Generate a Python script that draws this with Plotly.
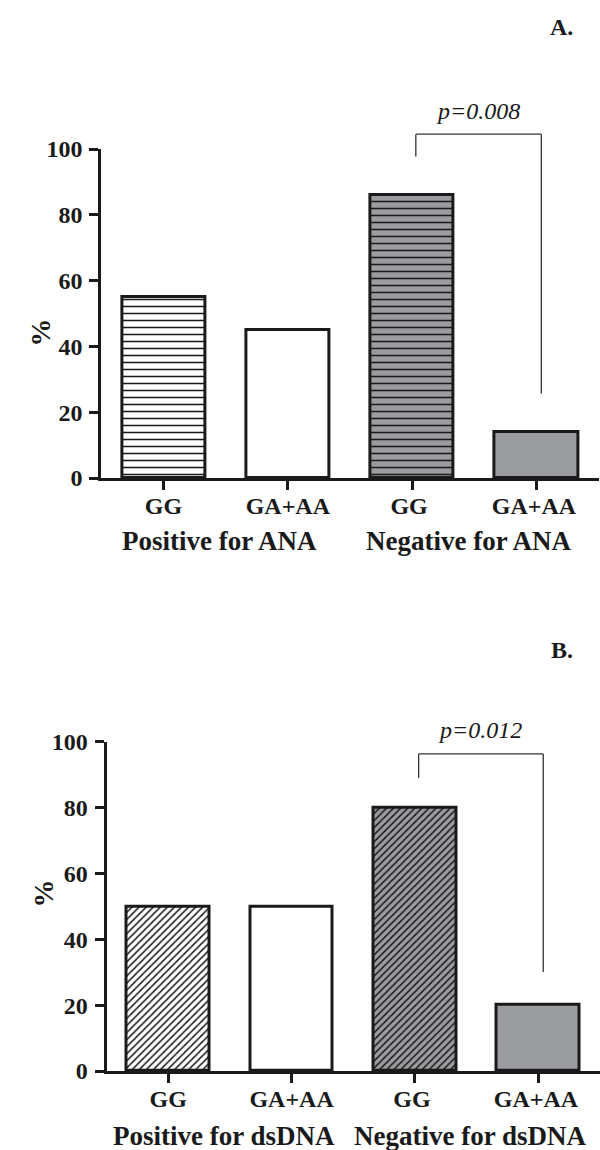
import plotly.graph_objects as go

# ---- data ----
genotypes = ["GG", "GA+AA", "GG ", "GA+AA "]
ana_values = [55, 45, 86, 14]
dsdna_values = [50, 50, 80, 20]
ana_groups = ["Positive for ANA", "Negative for ANA"]
dsdna_groups = ["Positive for dsDNA", "Negative for dsDNA"]
ana_p = "p=0.008"
dsdna_p = "p=0.012"
yticks = [0, 20, 40, 60, 80, 100]
# bracket: (top, left tip, right tip) in % units
ana_bracket = [104.5, 97.7, 25.7]
dsdna_bracket = [96.3, 89.0, 30.1]
ana_p_level = 111.5
dsdna_p_level = 103.5

W, H = 600, 1150
GRAY = "#9b9ca0"
INK = "#1a1a1a"
FONT = "Liberation Serif"

def py(px):
    return 1 - px / H

fig = go.Figure()

def panel_bars(values, xa, ya, shape):
    fills = ["white", "white", GRAY, GRAY]
    shapes = [shape, "", shape, ""]
    for i, (cat, v) in enumerate(zip(genotypes, values)):
        fig.add_trace(go.Bar(
            x=[cat], y=[v], xaxis=xa, yaxis=ya, width=0.67,
            marker=dict(color=fills[i],
                        line=dict(color=INK, width=3),
                        pattern=dict(shape=shapes[i], fgcolor=INK,
                                     bgcolor=fills[i],
                                     size=7 if shape == "-" else 5,
                                     solidity=0.22 if shape == "-" else 0.3,
                                     fillmode="replace")),
            showlegend=False, hoverinfo="skip"))

panel_bars(ana_values, "x", "y", "-")
panel_bars(dsdna_values, "x2", "y2", "/")

axis_common = dict(showline=True, linecolor=INK, linewidth=3,
                   ticks="outside", ticklen=9, tickwidth=3, tickcolor=INK,
                   showgrid=False, zeroline=False, fixedrange=True,
                   automargin=False)
tickfont = dict(family=FONT, size=24, color=INK, weight="bold")
xax = dict(range=[-0.5, 3.5], categoryorder="array", categoryarray=genotypes,
           tickfont=tickfont, ticklabelstandoff=-5, **axis_common)
yax = dict(range=[0, 100], tickvals=yticks, tickfont=tickfont,
           ticklabelstandoff=2, **axis_common)

fig.update_layout(
    width=W, height=H, margin=dict(l=0, r=0, t=0, b=0, autoexpand=False),
    paper_bgcolor="white", plot_bgcolor="white", bargap=0,
    xaxis=dict(domain=[0.169, 0.9975], anchor="y", **xax),
    yaxis=dict(domain=[py(478), py(149)], anchor="x", **yax),
    xaxis2=dict(domain=[0.1775, 1.0], anchor="y2", **xax),
    yaxis2=dict(domain=[py(1071), py(741.7)], anchor="x2", **yax),
)

def bracket(xa, ya_dom, vals):
    top, lt, rt = vals
    xl, xr = 2.03, 3.04
    line = dict(color="#333333", width=1.3)
    fig.add_shape(type="line", xref=xa, yref=ya_dom, x0=xl, x1=xr,
                  y0=top / 100, y1=top / 100, line=line)
    fig.add_shape(type="line", xref=xa, yref=ya_dom, x0=xl, x1=xl,
                  y0=top / 100, y1=lt / 100, line=line)
    fig.add_shape(type="line", xref=xa, yref=ya_dom, x0=xr, x1=xr,
                  y0=top / 100, y1=rt / 100, line=line)

bracket("x", "y domain", ana_bracket)
bracket("x2", "y2 domain", dsdna_bracket)

pfont = dict(family=FONT, size=24, color=INK, style="italic")
fig.add_annotation(text=ana_p, xref="x", yref="y domain", x=2.53,
                   y=ana_p_level / 100, showarrow=False, font=pfont,
                   yanchor="middle")
fig.add_annotation(text=dsdna_p, xref="x2", yref="y2 domain", x=2.53,
                   y=dsdna_p_level / 100, showarrow=False, font=pfont,
                   yanchor="middle")

gfont = dict(family=FONT, size=27, color=INK, weight="bold")
for xa, groups, ypx in [("x", ana_groups, 541), ("x2", dsdna_groups, 1136)]:
    for i, g in enumerate(groups):
        fig.add_annotation(text=g, xref=xa, yref="paper", x=0.45 + 2 * i,
                           y=py(ypx), showarrow=False, font=gfont,
                           yanchor="middle")

lfont = dict(family=FONT, size=24, color=INK, weight="bold")
fig.add_annotation(text="A.", xref="paper", yref="paper", x=575 / W, y=py(27),
                   showarrow=False, font=lfont, yanchor="middle")
fig.add_annotation(text="B.", xref="paper", yref="paper", x=575 / W, y=py(650),
                   showarrow=False, font=lfont, yanchor="middle")

pctfont = dict(family=FONT, size=28, color=INK, weight="bold")
fig.add_annotation(text="%", xref="paper", yref="paper", x=22 / W, y=py(317),
                   showarrow=False, font=pctfont, textangle=-90)
fig.add_annotation(text="%", xref="paper", yref="paper", x=25 / W, y=py(910),
                   showarrow=False, font=pctfont, textangle=-90)

fig.write_html("out.html", config={"displayModeBar": False},
               post_script="document.body.style.margin='0';")
